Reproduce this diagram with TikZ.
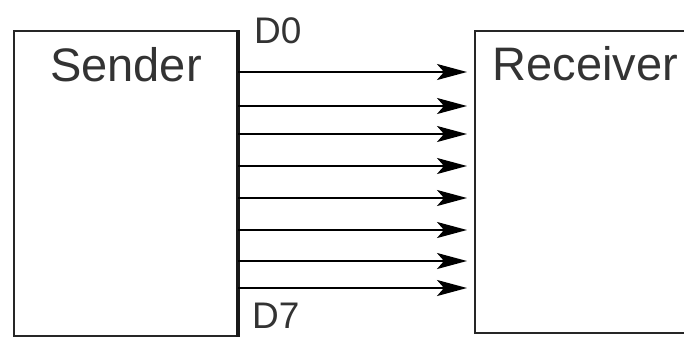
\documentclass[tikz,border=0pt]{standalone}
\usepackage{fontspec}
\setmainfont{Liberation Sans}
\usetikzlibrary{arrows.meta}
\begin{document}
\begin{tikzpicture}[x=1pt,y=-1pt,
  unitbox/.style={draw=black!85, line width=2pt, minimum width=#1, inner sep=0pt},
  boxtitle/.style={font=\fontsize{47}{50}\selectfont, text=black!80, anchor=base, inner sep=0pt},
  pinlabel/.style={font=\fontsize{37}{40}\selectfont, text=black!80, anchor=base west, inner sep=0pt},
  dataline/.style={line width=2.2pt, black, shorten >=7pt,
    -{Stealth[length=30pt, width=16pt, inset=7pt]}}]
\useasboundingbox (0,0) rectangle (684,338);
\fill[white] (0,0) rectangle (684,338);

% the two units
\node[unitbox=223pt, minimum height=305pt] (sender) at (125.5,183.5) {};
\node[unitbox=225pt, minimum height=302pt] (receiver) at (587.5,182) {};
\draw[line width=4pt, black!90] (sender.north east) -- (sender.south east);

\node[boxtitle] (sendertitle) at (126,81) {Sender};
\node[boxtitle] (receivertitle) at (585.5,80) {Receiver};

% data lines D0 ... D7
\foreach \y in {72,106,134,166,198,230,261,288}
  \draw[dataline] (sender.east |- 0,\y) -- (receiver.west |- 0,\y);

\node[pinlabel] (dzero) at (254,43) {D0};
\node[pinlabel] (dseven) at (252,328) {D7};
\end{tikzpicture}
\end{document}
